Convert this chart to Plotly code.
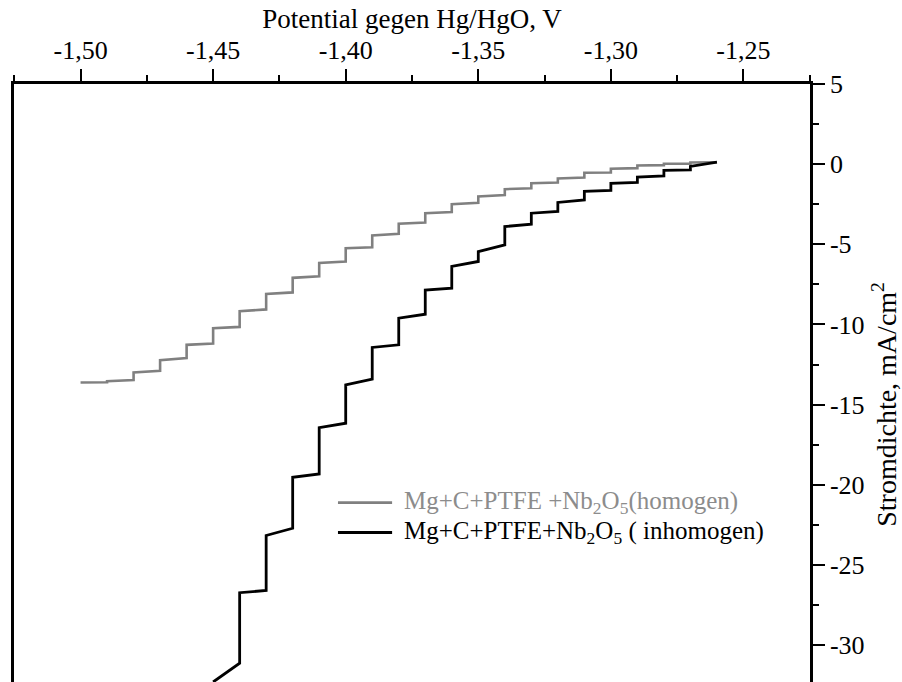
import plotly.graph_objects as go

# Potentialstufen (V gegen Hg/HgO) und Stromdichte (mA/cm²) am Anfang und Ende jeder Stufe
pot_homogen = [-1.26, -1.27, -1.28, -1.29, -1.30, -1.31, -1.32, -1.33, -1.34, -1.35,
               -1.36, -1.37, -1.38, -1.39, -1.40, -1.41, -1.42, -1.43, -1.44, -1.45,
               -1.46, -1.47, -1.48, -1.49, -1.50]
i_anfang_homogen = [0.12, 0.10, 0.03, -0.08, -0.29, -0.54, -0.89, -1.19, -1.56, -2.01,
                    -2.50, -3.06, -3.72, -4.45, -5.24, -6.16, -7.09, -8.09, -9.17, -10.23,
                    -11.27, -12.23, -12.99, -13.54, -13.62]
i_ende_homogen = [0.12, 0.03, -0.06, -0.25, -0.52, -0.83, -1.14, -1.50, -1.93, -2.41,
                  -2.98, -3.64, -4.35, -5.18, -6.07, -6.99, -8.00, -9.06, -10.15, -11.19,
                  -12.10, -12.89, -13.47, -13.60, -13.62]

pot_inhomogen = [-1.26, -1.27, -1.28, -1.29, -1.30, -1.31, -1.32, -1.33, -1.34, -1.35,
                 -1.36, -1.37, -1.38, -1.39, -1.40, -1.41, -1.42, -1.43, -1.44, -1.45]
i_anfang_inhomogen = [0.12, -0.14, -0.39, -0.81, -1.19, -1.70, -2.39, -3.06, -3.89, -5.45,
                      -6.38, -7.86, -9.61, -11.43, -13.76, -16.43, -19.53, -23.16, -26.73, -32.3]
i_ende_inhomogen = [0.12, -0.36, -0.73, -1.14, -1.64, -2.23, -2.95, -3.74, -5.03, -6.07,
                    -7.74, -9.36, -11.27, -13.41, -16.16, -19.32, -22.71, -26.59, -31.13, -32.3]

x_ticks = [-1.50, -1.45, -1.40, -1.35, -1.30, -1.25]
y_ticks = [5, 0, -5, -10, -15, -20, -25, -30]

name_homogen = "Mg+C+PTFE +Nb<sub>2</sub>O<sub>5</sub>(homogen)"
name_inhomogen = "Mg+C+PTFE+Nb<sub>2</sub>O<sub>5</sub> ( inhomogen)"

FONT = "Liberation Serif, Times New Roman, serif"

serien = [
    dict(pot=pot_homogen, a=i_anfang_homogen, e=i_ende_homogen, name=name_homogen,
         farbe="#808080", text_farbe="#8c8c8c", breite=2.6, leg_y=0.300),
    dict(pot=pot_inhomogen, a=i_anfang_inhomogen, e=i_ende_inhomogen, name=name_inhomogen,
         farbe="#000000", text_farbe="#000000", breite=2.8, leg_y=0.250),
]


def stufen(pot, i_anfang, i_ende):
    """Treppenkurve: pro Potentialstufe ein Punkt am Anfang und einer am Ende."""
    xs, ys = [], []
    for e, a, b in zip(pot, i_anfang, i_ende):
        xs += [e, e]
        ys += [a, b]
    return xs, ys


fig = go.Figure()
shapes, annotations = [], []
for s in serien:
    xs, ys = stufen(s["pot"], s["a"], s["e"])
    fig.add_trace(go.Scatter(x=xs, y=ys, mode="lines", name=s["name"], showlegend=False,
                             line=dict(color=s["farbe"], width=s["breite"])))
    # Legendeneintrag: Linienmuster + Beschriftung
    shapes.append(dict(type="line", xref="paper", yref="paper",
                       x0=0.407, x1=0.475, y0=s["leg_y"], y1=s["leg_y"],
                       line=dict(color=s["farbe"], width=s["breite"])))
    annotations.append(dict(text=s["name"], xref="paper", yref="paper",
                            x=0.488, y=s["leg_y"], xanchor="left", yanchor="middle",
                            showarrow=False, font=dict(size=25, color=s["text_farbe"])))

annotations.append(dict(
    text="Stromdichte, mA/cm<sup>2</sup>", textangle=-90,
    xref="paper", yref="paper", x=1.094, y=0.465,
    xanchor="center", yanchor="middle", showarrow=False,
    font=dict(size=28),
))

fig.update_layout(
    width=902, height=682,
    margin=dict(l=14, r=92, t=84, b=0),
    plot_bgcolor="white", paper_bgcolor="white",
    font=dict(family=FONT, size=26, color="black"),
    showlegend=False,
    shapes=shapes,
    annotations=annotations,
    xaxis=dict(
        side="top", range=[-1.5251, -1.2249],
        tickvals=x_ticks, ticktext=[f"{v:.2f}".replace(".", ",") for v in x_ticks],
        ticks="outside", ticklen=12, tickwidth=2, tickcolor="black",
        tickfont=dict(size=26),
        minor=dict(dtick=0.025, tick0=-1.5, ticks="outside", ticklen=6,
                   tickwidth=2, tickcolor="black"),
        showline=True, linecolor="black", linewidth=2.5,
        showgrid=False, zeroline=False,
        title=dict(text="Potential gegen Hg/HgO, V", font=dict(size=27), standoff=0),
    ),
    yaxis=dict(
        side="right", range=[-32.3, 5],
        tickvals=y_ticks, ticktext=[str(v) for v in y_ticks],
        ticks="outside", ticklen=12, tickwidth=2, tickcolor="black",
        tickfont=dict(size=26),
        minor=dict(dtick=2.5, tick0=0, ticks="outside", ticklen=6,
                   tickwidth=2, tickcolor="black"),
        showline=True, linecolor="black", linewidth=2.5, mirror=True,
        showgrid=False, zeroline=False,
    ),
)

fig.write_html("out.html")
